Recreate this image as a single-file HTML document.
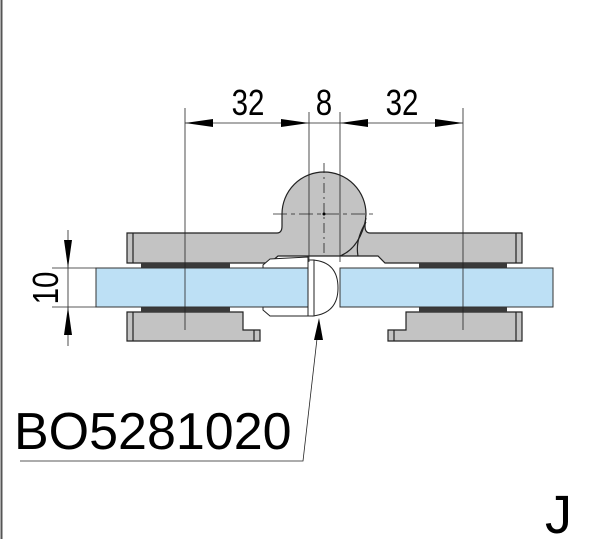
<!DOCTYPE html>
<html><head><style>
html,body{margin:0;padding:0;background:#fff;}
svg{display:block;}
text{font-family:"Liberation Sans",Arial,sans-serif;fill:#000;}
</style></head><body>
<svg width="600" height="539" viewBox="0 0 600 539" xmlns="http://www.w3.org/2000/svg">
<line x1="1.5" y1="0" x2="1.5" y2="539" stroke="#555" stroke-width="2"/>
<g stroke="#222" stroke-width="1.2" fill="#c3c3c3">
<path d="M127,233 H277 Q282,233 282,226 L282,214 A42,42 0 0 1 366,214 L365,226 Q365,233 370,233 H522 V263 H385 L378,256 H278 L270,263 H127 Z"/>
<path d="M366,222 Q355,240 358,256" fill="none"/>
<path d="M340,256 Q360,248 366,218" fill="none"/>
<line x1="133" y1="233" x2="133" y2="263"/>
<line x1="516" y1="233" x2="516" y2="263"/>
<path d="M127,312 H243 V330 H260 V341 H127 Z"/>
<line x1="133" y1="312" x2="133" y2="341"/>
<line x1="254" y1="330" x2="254" y2="341"/>
<path d="M406,312 H522 V341 H388 V330 H406 Z"/>
<line x1="516" y1="312" x2="516" y2="341"/>
<line x1="394" y1="330" x2="394" y2="341"/>
</g>
<g fill="#3a3a3a">
<rect x="141" y="263" width="89" height="5"/>
<rect x="141" y="307" width="89" height="5"/>
<rect x="419" y="263" width="88" height="5"/>
<rect x="419" y="307" width="88" height="5"/>
</g>
<g fill="#bde0f5" stroke="#333" stroke-width="1">
<rect x="96" y="268" width="212" height="39"/>
<rect x="340" y="268" width="213" height="39"/>
</g>
<g stroke="#222" stroke-width="1" fill="#fff">
<path d="M263,265 L270,259 L308,257 L308,268 L263,268 Z"/>
<path d="M263,310 L270,316 L308,316 L308,307 L263,307 Z"/>
<path d="M313,260 Q338,262 338,288 Q338,313 313,316 Z"/>
<rect x="308" y="260" width="6" height="56"/>
</g>
<g stroke="#222" stroke-width="0.8" fill="none">
<line x1="185" y1="108" x2="185" y2="330"/>
<line x1="309" y1="112" x2="309" y2="262"/>
<line x1="340" y1="112" x2="340" y2="262"/>
<line x1="463" y1="108" x2="463" y2="330"/>
<line x1="185" y1="123" x2="463" y2="123"/>
<line x1="324" y1="163" x2="324" y2="256" stroke-dasharray="10,4,2,4"/>
<line x1="273" y1="214" x2="376" y2="214" stroke-dasharray="14,4,4,4"/>
<line x1="52" y1="268" x2="96" y2="268"/>
<line x1="52" y1="307" x2="96" y2="307"/>
<line x1="68" y1="230" x2="68" y2="346"/>
<polyline points="20,461 303,461 318,330"/>
</g>
<g fill="#000">
<polygon points="185,123 213,119 213,127"/>
<polygon points="309,123 281,119 281,127"/>
<polygon points="340,123 368,119 368,127"/>
<polygon points="463,123 435,119 435,127"/>
<polygon points="68,268 64,240 72,240"/>
<polygon points="68,307 64,335 72,335"/>
<polygon points="319,318 314,340 323,340"/>
<circle cx="324" cy="214" r="1.5"/>
</g>
<text x="248" y="115" font-size="36" text-anchor="middle" transform="scale(0.82,1)" transform-origin="248 115">32</text>
<text x="324" y="115" font-size="36" text-anchor="middle" transform="scale(0.82,1)" transform-origin="324 115">8</text>
<text x="402" y="115" font-size="36" text-anchor="middle" transform="scale(0.82,1)" transform-origin="402 115">32</text>
<text x="0" y="0" font-size="36" text-anchor="middle" transform="translate(58,288) rotate(-90) scale(0.82,1)">10</text>
<text x="14" y="449" font-size="52">BO5281020</text>
<text x="545" y="533" font-size="54">J</text>
</svg>
</body></html>
